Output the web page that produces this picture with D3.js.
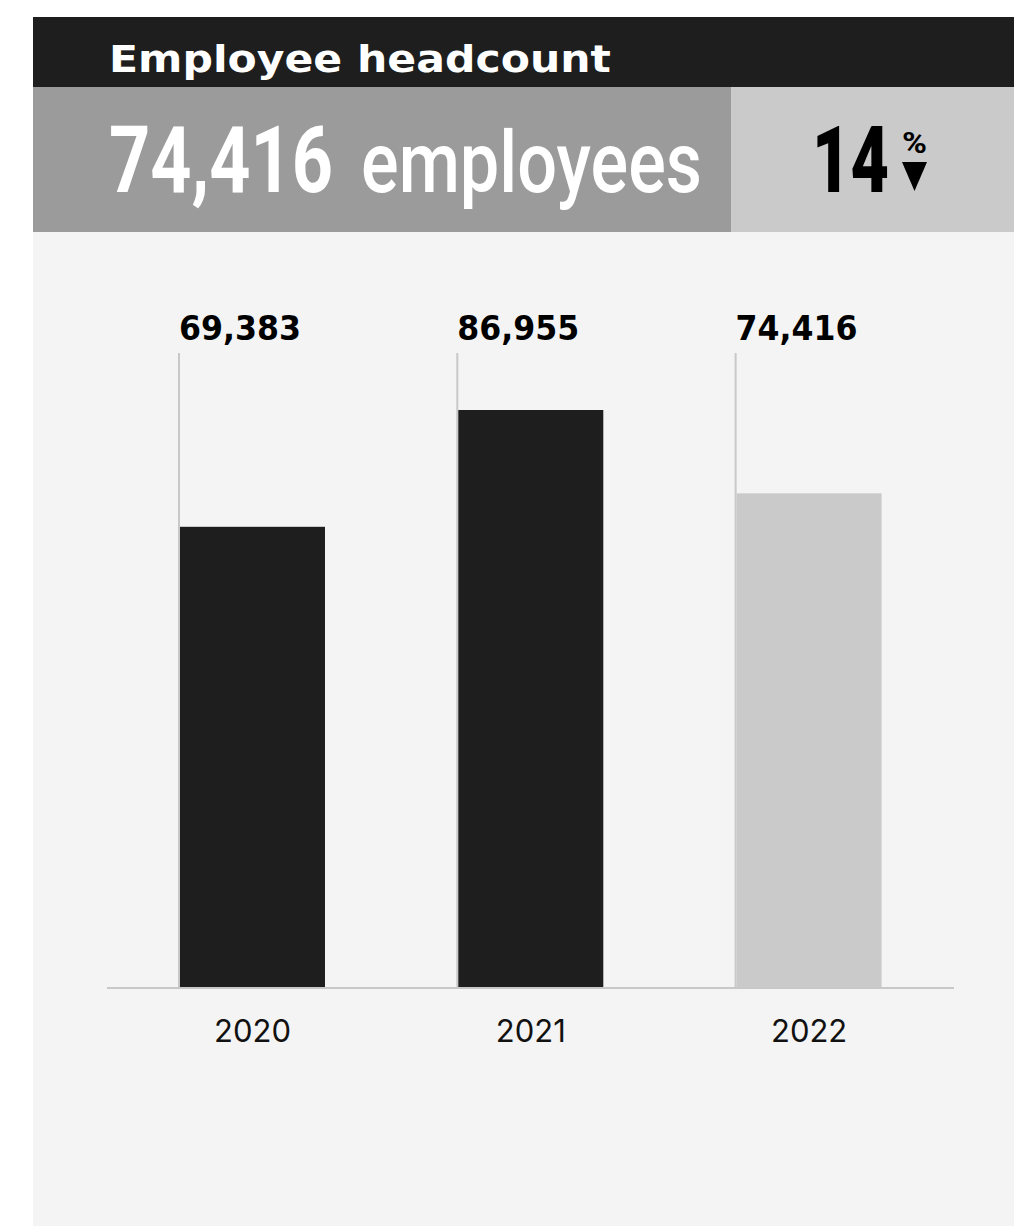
<!DOCTYPE html>
<html>
<head>
<meta charset="utf-8">
<script src="https://cdn.jsdelivr.net/npm/d3@7"></script>
<style>
  html, body { margin: 0; padding: 0; background: #ffffff; }
  svg { display: block; }
</style>
</head>
<body>
<svg id="chart" width="1014" height="1226"></svg>
<script>
// ---- data ----
const title = "Employee headcount";
const years = ["2020", "2021", "2022"];
const headcount = [69383, 86955, 74416];
const headlineValue = 74416;
const headlineUnit = "employees";
const changePct = 14;

// ---- setup ----
const svg = d3.select("#chart");
const W = 1014, H = 1226;
const fmt = d3.format(",");

const C = {
  dark: "#1d1e1d",
  midGray: "#9a9b9a",
  lightGray: "#cacaca",
  panel: "#f4f4f4",
  rule: "#c8c8c8"
};

// place a text at (x,y) scaled horizontally to a target width (left-aligned)
function fitText(sel, x, y, target) {
  sel.each(function () {
    const w = this.getComputedTextLength();
    const sx = w > 0 ? target / w : 1;
    d3.select(this).attr("x", 0).attr("y", 0)
      .attr("transform", `translate(${x},${y}) scale(${sx},1)`);
  });
  return sel;
}

// panel background
svg.append("rect").attr("x", 33).attr("y", 17).attr("width", W - 33).attr("height", H - 17)
  .attr("fill", C.panel);

// header band
svg.append("rect").attr("x", 33).attr("y", 17).attr("width", W - 33).attr("height", 70)
  .attr("fill", C.dark);
svg.append("text")
  .attr("fill", "#ffffff")
  .style("font-family", "'DejaVu Sans', sans-serif")
  .style("font-weight", 700).style("font-size", "37px")
  .text(title)
  .call(fitText, 109, 72, 502);

// headline band
svg.append("rect").attr("x", 33).attr("y", 87).attr("width", 698).attr("height", 145)
  .attr("fill", C.midGray);
svg.append("rect").attr("x", 731).attr("y", 87).attr("width", W - 731).attr("height", 145)
  .attr("fill", C.lightGray);

svg.append("text")
  .attr("fill", "#ffffff")
  .style("font-family", "Roboto, sans-serif")
  .style("font-weight", 700).style("font-size", "92px")
  .text(fmt(headlineValue))
  .call(fitText, 109, 192, 224);
svg.append("text")
  .attr("fill", "#ffffff")
  .style("font-family", "Roboto, sans-serif")
  .style("font-weight", 500).style("font-size", "86px")
  .text(headlineUnit)
  .call(fitText, 361, 192, 341);

svg.append("text")
  .attr("fill", "#000000")
  .style("font-family", "Roboto, sans-serif")
  .style("font-weight", 900).style("font-size", "93px")
  .text(String(changePct))
  .call(fitText, 812, 192, 77);
svg.append("text")
  .attr("fill", "#000000")
  .style("font-family", "Roboto, sans-serif")
  .style("font-weight", 700).style("font-size", "30px")
  .text("%")
  .call(fitText, 902, 153, 25);
svg.append("path")
  .attr("d", d3.line()([[902, 162], [927, 162], [914.5, 191]]) + "Z")
  .attr("fill", "#000000");

// ---- chart ----
const baseY = 988;
const x = d3.scaleBand().domain(years).range([110.4, 951.2])
  .paddingInner(0.479).paddingOuter(0.25);
const y = d3.scaleLinear().domain([0, 86955]).range([baseY, 410]);

const g = svg.append("g");

// guide lines from label to baseline
g.selectAll("line.guide").data(years).join("line")
  .attr("class", "guide")
  .attr("x1", d => x(d) - 1).attr("x2", d => x(d) - 1)
  .attr("y1", 353).attr("y2", baseY)
  .attr("stroke", C.rule).attr("stroke-width", 2);

// bars
g.selectAll("rect.bar").data(years).join("rect")
  .attr("class", "bar")
  .attr("x", d => x(d))
  .attr("width", x.bandwidth())
  .attr("y", (d, i) => y(headcount[i]))
  .attr("height", (d, i) => baseY - y(headcount[i]))
  .attr("fill", (d, i) => i === years.length - 1 ? C.lightGray : C.dark);

// baseline axis
const axis = d3.axisBottom(x).tickSize(0).tickPadding(0);
const ax = g.append("g").attr("transform", `translate(0,${baseY})`).call(axis);
ax.select(".domain").remove();
ax.selectAll(".tick text")
  .attr("y", 54)
  .attr("dy", 0)
  .attr("fill", "#111111")
  .style("font-family", "Inter, 'Open Sans', sans-serif")
  .style("font-weight", 400).style("font-size", "31px");
g.append("line").attr("x1", 107).attr("x2", 954).attr("y1", baseY).attr("y2", baseY)
  .attr("stroke", C.rule).attr("stroke-width", 2);

// value labels
g.selectAll("text.val").data(years).join("text")
  .attr("class", "val")
  .attr("fill", "#000000")
  .style("font-family", "'DejaVu Sans', sans-serif")
  .style("font-weight", 700).style("font-size", "34px")
  .text((d, i) => fmt(headcount[i]))
  .each(function (d) {
    d3.select(this).call(fitText, x(d) - 1, 340, 122);
  });
</script>
</body>
</html>
